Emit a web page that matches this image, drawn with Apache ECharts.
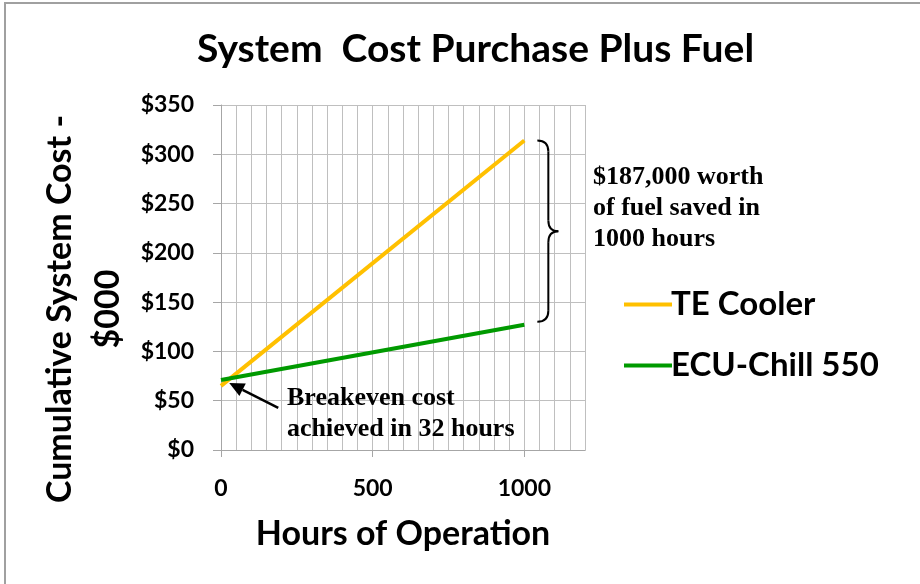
<!DOCTYPE html>
<html>
<head>
<meta charset="utf-8">
<script src="https://cdn.jsdelivr.net/npm/echarts@6/dist/echarts.min.js"></script>
<style>html,body{margin:0;padding:0;background:#fff;}#c{width:920px;height:584px;}</style>
</head>
<body>
<div id="c"></div>
<script>
// ---- data ----
const hours = [0, 1000];
const teCooler = [65, 314];
const ecuChill = [71, 127];
const seriesNames = ['TE Cooler', 'ECU-Chill 550'];
const xTickLabels = [0, 500, 1000];
const breakevenHours = 32;
const breakevenCost = 72;
const titleText = 'System  Cost Purchase Plus Fuel';
const yName = 'Cumulative System Cost -\n$000';
const xName = 'Hours of Operation';
const noteBreakeven = 'Breakeven cost\nachieved in 32 hours';
const noteSaved = '$187,000 worth\nof fuel saved in\n1000 hours';

const SANS = 'Lato';
const SERIF = '"Liberation Serif", "Times New Roman", serif';

const chart = echarts.init(document.getElementById('c'), null, {renderer: 'canvas'});
const gridColor = '#BFBFBF';
const axisColor = '#A6A6A6';

const option = {
  backgroundColor: '#fff',
  animation: false,
  title: {
    text: titleText, left: 192, top: 25,
    textStyle: {fontFamily: SANS, fontWeight: 'bold', fontSize: 39, color: '#000'}
  },
  legend: {
    orient: 'vertical', left: 619, top: 283, itemWidth: 48, itemHeight: 4, itemGap: 28,
    icon: 'rect',
    textStyle: {fontFamily: SANS, fontWeight: 'bold', fontSize: 33, color: '#000', padding: [0,0,0,-6]},
    data: seriesNames
  },
  grid: {left: 221, right: 335, top: 105, bottom: 134, containLabel: false},
  xAxis: [
    {
      type: 'value', min: 0, max: 1200, interval: 50, position: 'bottom',
      axisLine: {show: true, lineStyle: {color: axisColor, width: 1}},
      axisTick: {show: false},
      axisLabel: {show: false},
      splitLine: {show: true, lineStyle: {color: gridColor, width: 1}}
    },
    {
      type: 'value', min: 0, max: 1200, interval: 500, position: 'bottom',
      name: xName, nameLocation: 'middle', nameGap: 67,
      nameTextStyle: {fontFamily: SANS, fontWeight: 'bold', fontSize: 34, color: '#000'},
      axisLine: {show: true, lineStyle: {color: axisColor, width: 1}},
      axisTick: {show: true, customValues: xTickLabels, length: 7, lineStyle: {color: axisColor}},
      axisLabel: {customValues: xTickLabels, margin: 27, fontFamily: SANS, fontWeight: 'bold', fontSize: 23, color: '#000', formatter: v => String(v)},
      splitLine: {show: false}
    }
  ],
  yAxis: {
    type: 'value', min: 0, max: 350, interval: 50,
    axisLine: {show: true, lineStyle: {color: axisColor, width: 1}},
    axisTick: {show: true, length: 8, lineStyle: {color: axisColor}},
    axisLabel: {margin: 27, fontFamily: SANS, fontWeight: 'bold', fontSize: 23, color: '#000', formatter: v => '$' + v},
    splitLine: {show: true, lineStyle: {color: gridColor, width: 1}}
  },
  series: [
    {name: seriesNames[0], type: 'line', xAxisIndex: 0, symbol: 'none', color: '#FFC000',
     lineStyle: {width: 4, color: '#FFC000'}, data: hours.map((h, i) => [h, teCooler[i]])},
    {name: seriesNames[1], type: 'line', xAxisIndex: 0, symbol: 'none', color: '#009A00',
     lineStyle: {width: 4, color: '#009A00'}, data: hours.map((h, i) => [h, ecuChill[i]])}
  ]
};
chart.setOption(option);

// annotations positioned from the data via the chart's scales
const tip = chart.convertToPixel({xAxisIndex: 0, yAxisIndex: 0}, [breakevenHours * 0.85, breakevenCost - 4]);
const tail = [tip[0] + 49, tip[1] + 25];
const ang = Math.atan2(tail[1] - tip[1], tail[0] - tip[0]);
const headLen = 15, headW = 7;
const bx = tip[0] + headLen * Math.cos(ang), by = tip[1] + headLen * Math.sin(ang);
const head = [
  tip,
  [bx - headW * Math.sin(ang), by + headW * Math.cos(ang)],
  [bx + headW * Math.sin(ang), by - headW * Math.cos(ang)]
];
const topEnd = chart.convertToPixel({xAxisIndex: 0, yAxisIndex: 0}, [hours[1], teCooler[1]]);
const botEnd = chart.convertToPixel({xAxisIndex: 0, yAxisIndex: 0}, [hours[1], ecuChill[1]]);
const x0 = topEnd[0] + 13, x1 = x0 + 11, x2 = x0 + 21;
const yt = topEnd[1], yb = botEnd[1] - 3, ym = (yt + yb) / 2;
const r = 11;
const braceStyle = {fill: null, stroke: '#000', lineWidth: 2};
const brace = [
  {type: 'bezierCurve', shape: {x1: x0, y1: yt, cpx1: x1, cpy1: yt, x2: x1, y2: yt + r}, style: braceStyle},
  {type: 'line', shape: {x1: x1, y1: yt + r, x2: x1, y2: ym - r}, style: braceStyle},
  {type: 'bezierCurve', shape: {x1: x1, y1: ym - r, cpx1: x1, cpy1: ym, x2: x2, y2: ym}, style: braceStyle},
  {type: 'bezierCurve', shape: {x1: x2, y1: ym, cpx1: x1, cpy1: ym, x2: x1, y2: ym + r}, style: braceStyle},
  {type: 'line', shape: {x1: x1, y1: ym + r, x2: x1, y2: yb - r}, style: braceStyle},
  {type: 'bezierCurve', shape: {x1: x1, y1: yb - r, cpx1: x1, cpy1: yb, x2: x0, y2: yb}, style: braceStyle}
];

chart.setOption({
  graphic: [
    {type: 'rect', shape: {x: 5, y: 3, width: 1000, height: 1000}, style: {fill: null, stroke: '#A0A0A0', lineWidth: 2}, silent: true},
    {type: 'text', x: 84, y: 309, rotation: Math.PI / 2,
     style: {text: yName, fontFamily: SANS, fontWeight: 'bold', fontSize: 34, lineHeight: 48, fill: '#000', align: 'center', verticalAlign: 'middle'}},
    {type: 'line', shape: {x1: tail[0], y1: tail[1], x2: bx, y2: by}, style: {stroke: '#000', lineWidth: 2.5}},
    {type: 'polygon', shape: {points: head}, style: {fill: '#000'}},
    {type: 'text', x: 287, y: 383,
     style: {text: noteBreakeven, fontFamily: SERIF, fontWeight: 'bold', fontSize: 26, lineHeight: 31, fill: '#000', align: 'left', verticalAlign: 'top'}},
    ...brace,
    {type: 'text', x: 593, y: 162,
     style: {text: noteSaved, fontFamily: SERIF, fontWeight: 'bold', fontSize: 26, lineHeight: 31, fill: '#000', align: 'left', verticalAlign: 'top'}}
  ]
});
</script>
</body>
</html>
